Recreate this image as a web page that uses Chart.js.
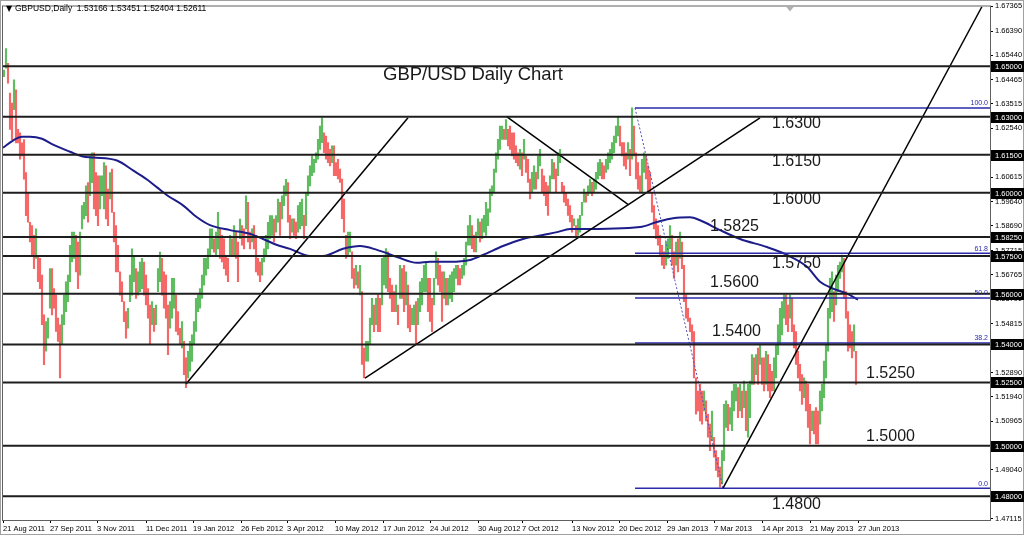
<!DOCTYPE html>
<html>
<head>
<meta charset="utf-8">
<script src="https://cdn.jsdelivr.net/npm/chart.js@4/dist/chart.umd.min.js"></script>
<style>
html, body { margin: 0; padding: 0; background: #fff; }
#wrap { width: 1024px; height: 535px; position: relative; }
</style>
</head>
<body>
<div id="wrap"><canvas id="chart"></canvas></div>
<script>
// daily bars [low, high], one bar per trading day, 21 Aug 2011 -> early Jul 2013
var barRanges = [
  [1.6459,1.6485],[1.6492,1.6570],[1.6433,1.6511],[1.6250,1.6394],[1.6210,1.6354],[1.6328,1.6446],[1.6197,1.6407],[1.6197,1.6250],[1.6132,1.6237],[1.6145,1.6197],
  [1.6053,1.6210],[1.5909,1.6079],[1.5883,1.6001],[1.5805,1.5883],[1.5752,1.5870],[1.5700,1.5831],[1.5740,1.5857],[1.5648,1.5752],[1.5621,1.5740],[1.5478,1.5674],
  [1.5320,1.5517],[1.5373,1.5490],[1.5425,1.5504],[1.5543,1.5700],[1.5517,1.5700],[1.5543,1.5621],[1.5452,1.5595],[1.5412,1.5504],[1.5268,1.5478],[1.5399,1.5517],
  [1.5478,1.5595],[1.5530,1.5648],[1.5569,1.5674],[1.5648,1.5792],[1.5726,1.5844],[1.5740,1.5844],[1.5687,1.5831],[1.5621,1.5805],[1.5674,1.5844],[1.5857,1.5949],
  [1.5896,1.5962],[1.5909,1.6027],[1.5883,1.6040],[1.5988,1.6145],[1.6040,1.6158],[1.5936,1.6158],[1.5909,1.6079],[1.5870,1.6067],[1.5936,1.6067],[1.5988,1.6067],
  [1.5936,1.6119],[1.5896,1.6106],[1.5870,1.6014],[1.5975,1.6079],[1.5922,1.6093],[1.5805,1.5922],[1.5687,1.5870],[1.5687,1.5792],[1.5595,1.5687],[1.5569,1.5648],
  [1.5490,1.5569],[1.5425,1.5530],[1.5464,1.5543],[1.5569,1.5674],[1.5595,1.5778],[1.5648,1.5752],[1.5582,1.5700],[1.5595,1.5687],[1.5609,1.5726],[1.5621,1.5740],
  [1.5595,1.5726],[1.5556,1.5674],[1.5504,1.5621],[1.5399,1.5556],[1.5478,1.5569],[1.5452,1.5543],[1.5478,1.5556],[1.5609,1.5700],[1.5648,1.5765],[1.5595,1.5740],
  [1.5543,1.5687],[1.5504,1.5674],[1.5360,1.5556],[1.5464,1.5569],[1.5504,1.5661],[1.5543,1.5661],[1.5452,1.5595],[1.5438,1.5530],[1.5399,1.5464],[1.5386,1.5490],
  [1.5281,1.5412],[1.5229,1.5347],[1.5268,1.5373],[1.5294,1.5412],[1.5333,1.5438],[1.5399,1.5490],[1.5452,1.5582],[1.5530,1.5595],[1.5543,1.5621],[1.5582,1.5674],
  [1.5634,1.5740],[1.5674,1.5740],[1.5700,1.5778],[1.5752,1.5857],[1.5778,1.5857],[1.5765,1.5818],[1.5752,1.5844],[1.5778,1.5922],[1.5740,1.5857],[1.5726,1.5831],
  [1.5700,1.5818],[1.5674,1.5752],[1.5648,1.5740],[1.5752,1.5831],[1.5752,1.5818],[1.5752,1.5870],[1.5740,1.5844],[1.5648,1.5805],[1.5818,1.5896],[1.5792,1.5870],
  [1.5778,1.5857],[1.5857,1.5988],[1.5805,1.5962],[1.5778,1.5844],[1.5805,1.5857],[1.5778,1.5870],[1.5687,1.5831],[1.5674,1.5740],[1.5648,1.5726],[1.5674,1.5740],
  [1.5726,1.5778],[1.5752,1.5831],[1.5778,1.5883],[1.5818,1.5909],[1.5831,1.5909],[1.5805,1.5896],[1.5844,1.5909],[1.5883,1.5975],[1.5831,1.5962],[1.5896,1.5988],
  [1.5949,1.6027],[1.5988,1.6053],[1.5883,1.6040],
  [1.5818,1.5910],[1.5844,1.5897],[1.5831,1.5897],[1.5818,1.5884],[1.5844,1.5949],[1.5857,1.5962],[1.5870,1.5975],[1.5818,1.5910],[1.5870,1.6001],[1.5988,1.6067],
  [1.6027,1.6106],[1.6067,1.6145],[1.6080,1.6132],[1.6119,1.6158],[1.6132,1.6211],[1.6171,1.6263],[1.6198,1.6296],[1.6158,1.6237],[1.6132,1.6224],[1.6119,1.6198],
  [1.6106,1.6171],[1.6119,1.6185],[1.6067,1.6185],[1.6067,1.6119],[1.6054,1.6132],[1.6041,1.6093],[1.5897,1.6054],[1.5844,1.5975],[1.5740,1.5831],[1.5753,1.5844],
  [1.5766,1.5844],[1.5661,1.5766],[1.5622,1.5700],[1.5635,1.5713],[1.5622,1.5687],[1.5596,1.5713],[1.5321,1.5609],[1.5268,1.5386],[1.5334,1.5412],[1.5334,1.5412],
  [1.5399,1.5504],[1.5478,1.5582],[1.5451,1.5556],[1.5478,1.5582],[1.5451,1.5596],[1.5451,1.5582],[1.5556,1.5740],[1.5635,1.5753],[1.5622,1.5779],[1.5609,1.5766],
  [1.5582,1.5661],[1.5530,1.5635],[1.5530,1.5609],[1.5530,1.5635],[1.5478,1.5556],[1.5582,1.5713],[1.5582,1.5700],[1.5530,1.5713],[1.5556,1.5687],[1.5465,1.5635],
  [1.5451,1.5556],[1.5478,1.5543],[1.5478,1.5556],[1.5399,1.5569],[1.5478,1.5582],[1.5530,1.5648],[1.5556,1.5661],[1.5609,1.5713],[1.5609,1.5726],[1.5530,1.5661],
  [1.5491,1.5661],[1.5451,1.5582],[1.5556,1.5661],[1.5661,1.5766],[1.5635,1.5740],[1.5609,1.5713],[1.5491,1.5687],[1.5582,1.5687],[1.5556,1.5661],[1.5556,1.5661],
  [1.5582,1.5674],[1.5569,1.5687],[1.5609,1.5700],[1.5661,1.5713],[1.5635,1.5713],[1.5635,1.5700],[1.5661,1.5713],[1.5674,1.5740],[1.5713,1.5805],[1.5792,1.5870],
  [1.5792,1.5910],[1.5779,1.5870],[1.5766,1.5831],[1.5766,1.5844],[1.5831,1.5897],[1.5805,1.5884],[1.5818,1.5897],[1.5844,1.5910],[1.5831,1.5962],[1.5870,1.5936],
  [1.5923,1.6014],[1.5988,1.6027],[1.6001,1.6093],[1.6080,1.6158],[1.6132,1.6211],[1.6171,1.6263],[1.6211,1.6263],[1.6211,1.6250],[1.6211,1.6289],[1.6185,1.6250],
  [1.6171,1.6263],[1.6145,1.6237],[1.6132,1.6237],[1.6119,1.6185],[1.6106,1.6158],[1.6093,1.6171],[1.6067,1.6158],[1.6132,1.6211],[1.6080,1.6145],[1.6041,1.6132],
  [1.5975,1.6054],[1.6001,1.6080],[1.6014,1.6106],[1.6014,1.6080],[1.6054,1.6145],[1.6106,1.6171],[1.6001,1.6093],[1.5988,1.6067],[1.5949,1.6041],[1.5910,1.6027],
  [1.6001,1.6067],[1.6054,1.6132],[1.6054,1.6119],[1.6001,1.6093],[1.6067,1.6158],[1.6119,1.6171],[1.6001,1.6041],[1.5962,1.6027],[1.5949,1.6001],[1.5910,1.5975],
  [1.5884,1.5949],[1.5844,1.5910],[1.5870,1.5897],[1.5825,1.5870],[1.5831,1.5897],
  [1.5844,1.5910],[1.5910,1.5962],[1.5962,1.6014],[1.5962,1.6001],[1.5988,1.6027],[1.6001,1.6054],[1.5988,1.6041],[1.6001,1.6054],[1.6014,1.6080],[1.6054,1.6119],
  [1.6067,1.6132],[1.6054,1.6119],[1.6054,1.6106],[1.6080,1.6132],[1.6093,1.6158],[1.6119,1.6171],[1.6132,1.6198],[1.6158,1.6224],[1.6198,1.6263],[1.6224,1.6302],
  [1.6185,1.6263],[1.6145,1.6198],[1.6106,1.6198],[1.6093,1.6158],[1.6132,1.6198],[1.6067,1.6171],[1.6132,1.6335],[1.6145,1.6263],[1.6054,1.6158],[1.6014,1.6119],
  [1.6001,1.6067],[1.6001,1.6132],[1.6080,1.6158],[1.6054,1.6145],[1.6001,1.6106],[1.6001,1.6080],[1.5923,1.6001],[1.5857,1.5949],[1.5818,1.5897],[1.5792,1.5870],
  [1.5753,1.5831],[1.5713,1.5792],[1.5700,1.5766],[1.5713,1.5805],[1.5740,1.5818],[1.5779,1.5870],[1.5713,1.5831],[1.5661,1.5766],[1.5713,1.5805],[1.5687,1.5818],
  [1.5740,1.5844],[1.5700,1.5805],[1.5569,1.5713],[1.5504,1.5596],[1.5491,1.5543],[1.5451,1.5504],[1.5412,1.5478],[1.5268,1.5451],[1.5124,1.5268],[1.5137,1.5216],
  [1.5098,1.5242],[1.5085,1.5216],[1.5137,1.5216],[1.5098,1.5177],[1.5033,1.5124],[1.4980,1.5085],[1.5020,1.5137],[1.4954,1.5033],[1.4902,1.4980],[1.4876,1.4954],
  [1.4836,1.4915],[1.4849,1.4980],[1.4941,1.5163],[1.5072,1.5177],[1.5059,1.5163],[1.5085,1.5150],[1.5059,1.5216],[1.5137,1.5242],[1.5177,1.5242],[1.5111,1.5229],
  [1.5137,1.5242],[1.5111,1.5216],[1.5150,1.5255],[1.5059,1.5216],[1.5033,1.5242],[1.5111,1.5255],[1.5242,1.5360],[1.5242,1.5347],[1.5281,1.5360],[1.5242,1.5386],
  [1.5321,1.5399],[1.5242,1.5347],[1.5216,1.5347],[1.5242,1.5373],[1.5216,1.5360],[1.5190,1.5321],[1.5216,1.5294],[1.5216,1.5347],[1.5268,1.5399],[1.5360,1.5478],
  [1.5399,1.5543],[1.5438,1.5569],[1.5504,1.5596],[1.5478,1.5596],[1.5451,1.5556],[1.5504,1.5596],[1.5451,1.5582],[1.5386,1.5478],[1.5321,1.5451],[1.5268,1.5373],
  [1.5216,1.5321],[1.5163,1.5281],[1.5190,1.5268],[1.5137,1.5255],[1.5072,1.5242],[1.5007,1.5163],[1.5059,1.5137],[1.5046,1.5137],[1.5007,1.5150],[1.5007,1.5137],
  [1.5085,1.5216],[1.5137,1.5242],[1.5190,1.5334],[1.5268,1.5399],[1.5373,1.5543],[1.5504,1.5661],[1.5530,1.5687],[1.5491,1.5609],[1.5556,1.5674],[1.5609,1.5713],
  [1.5661,1.5726],[1.5687,1.5753],[1.5582,1.5740],[1.5504,1.5609],[1.5373,1.5530],[1.5386,1.5478],[1.5347,1.5451],[1.5373,1.5478],[1.5242,1.5373]
];

// moving average, [bar index, price]
var maPoints = [
  [-0.5,1.6178],[4.5,1.6206],[9,1.6221],[13,1.6221],[19,1.6213],[24.5,1.6190],[33,1.6162],[39.5,1.6143],[44.5,1.6139],
  [56.5,1.6127],[64.5,1.6088],[71.5,1.6052],[76.5,1.6021],[81.5,1.5990],[89.5,1.5950],[96.5,1.5903],[103,1.5872],
  [113,1.5852],[123,1.5837],[129.5,1.5817],[136.5,1.5793],[143,1.5778],[153,1.5750],[159.5,1.5750],[169.5,1.5778],
  [178,1.5789],[186.5,1.5774],[196.5,1.5746],[206.5,1.5723],[213,1.5727],[223,1.5727],[233,1.5734],[239.5,1.5754],
  [249.5,1.5789],[259.5,1.5817],[269.5,1.5833],[276.5,1.5844],[283,1.5856],[288,1.5856],[318,1.5864],[326.5,1.5884],
  [334.5,1.5899],[343,1.5903],[348,1.5891],[358,1.5852],[368,1.5817],[381.5,1.5785],[391.5,1.5754],[401.5,1.5707],
  [408,1.5648],[414.5,1.5621],[421.5,1.5601],[427,1.5577]
];

// horizontal support / resistance levels
var levels = [1.6500, 1.6300, 1.6150, 1.6000, 1.5825, 1.5750, 1.5600, 1.5400, 1.5250, 1.5000, 1.4800];

// trend lines, each [[index, price], [index, price]]
var trendLines = [
  [[91, 1.5244], [202, 1.6296]],
  [[180.5, 1.5267], [378, 1.6296]],
  [[251.5, 1.6300], [312, 1.5954]],
  [[359.5, 1.4832], [489, 1.6736]]
];

// fibonacci retracement of the Jan-Mar 2013 drop
var fibNames = ['100.0', '61.8', '50.0', '38.2', '0.0'];
var fibPrices = [1.6335, 1.5761, 1.5584, 1.5406, 1.4832];
var fibSwing = [[315.5, 1.6335], [359.5, 1.4832]];

var dateTicks = [-0.5, 23, 46.5, 71, 94.5, 118.5, 141.5, 165.5, 189.5, 213, 237, 259, 284, 307.5, 331.5, 355, 379, 403, 427];
var dateLabels = ['21 Aug 2011', '27 Sep 2011', '3 Nov 2011', '11 Dec 2011', '19 Jan 2012', '26 Feb 2012', '3 Apr 2012',
  '10 May 2012', '17 Jun 2012', '24 Jul 2012', '30 Aug 2012', '7 Oct 2012', '13 Nov 2012', '20 Dec 2012',
  '29 Jan 2013', '7 Mar 2013', '14 Apr 2013', '21 May 2013', '27 Jun 2013'];

var priceTicks = [1.67365, 1.66390, 1.65440, 1.64465, 1.63515, 1.62540, 1.61590, 1.60615, 1.59640, 1.58690, 1.57715,
  1.56765, 1.55790, 1.54815, 1.53865, 1.52890, 1.51940, 1.50965, 1.50015, 1.49040, 1.48065, 1.47115];

var noteTexts = ['1.6300', '1.6150', '1.6000', '1.5825', '1.5750', '1.5600', '1.5400', '1.5250', '1.5000', '1.4800'];
var notePos = [[772, 124], [772, 162], [772, 200], [710, 227], [772, 264], [710, 283], [712, 332], [866, 374], [866, 437], [772, 505]];

var GREEN = 'rgb(96,188,96)';
var RED = 'rgb(246,104,104)';

var barColors = barRanges.map(function(r, i) {
  if (i == 0) return GREEN;
  var prev = barRanges[i - 1];
  return (r[0] + r[1]) >= (prev[0] + prev[1]) ? GREEN : RED;
});

function seg(a, b, color, width, dash) {
  return {
    type: 'line',
    data: [{x: a[0], y: a[1]}, {x: b[0], y: b[1]}],
    borderColor: color,
    borderWidth: width,
    borderDash: dash || [],
    pointRadius: 0,
    fill: false,
    order: 1
  };
}

var datasets = [{
  type: 'bar',
  data: barRanges.map(function(r, i) { return {x: i, y: r}; }),
  backgroundColor: barColors,
  barThickness: 1.5,
  grouped: false,
  order: 10
}, {
  type: 'line',
  data: maPoints.map(function(p) { return {x: p[0], y: p[1]}; }),
  borderColor: '#1c1c8a',
  borderWidth: 2,
  pointRadius: 0,
  fill: false,
  cubicInterpolationMode: 'monotone',
  order: 3
}];

levels.forEach(function(v) { datasets.push(seg([-0.5, v], [493, v], '#1e1e1e', 2)); });
trendLines.forEach(function(t) { datasets.push(seg(t[0], t[1], '#000', 1.5)); });
fibPrices.forEach(function(v) { datasets.push(seg([fibSwing[0][0], v], [493, v], '#2a2aaa', 1.5)); });
datasets.push(seg(fibSwing[0], fibSwing[1], '#5050c0', 1, [2, 2]));

var overlay = {
  id: 'overlay',
  beforeDraw: function(chart) {
    var ctx = chart.ctx;
    ctx.save();
    ctx.fillStyle = '#fff';
    ctx.fillRect(0, 0, chart.width, chart.height);
    ctx.restore();
  },
  afterDraw: function(chart) {
    var ctx = chart.ctx, a = chart.chartArea, ys = chart.scales.y;
    ctx.save();
    // chart frame
    ctx.strokeStyle = '#606060';
    ctx.lineWidth = 1;
    ctx.strokeRect(a.left - 0.5, a.top - 0.5, a.right - a.left + 1, a.bottom - a.top + 1);
    ctx.strokeStyle = '#a0a0a0';
    ctx.strokeRect(0.5, 0.5, chart.width - 1, chart.height - 1);

    // level boxes on the price axis
    ctx.font = '7.5px "Liberation Sans"';
    ctx.textBaseline = 'middle';
    ctx.textAlign = 'left';
    levels.forEach(function(v) {
      var y = Math.round(ys.getPixelForValue(v));
      ctx.fillStyle = '#000';
      ctx.fillRect(a.right + 1, y - 5, 33, 11);
      ctx.fillStyle = '#fff';
      ctx.fillText(v.toFixed(5), a.right + 5, y + 0.5);
    });

    // fib level names
    ctx.font = '7px "Liberation Sans"';
    ctx.fillStyle = '#2a2aaa';
    ctx.textAlign = 'right';
    ctx.textBaseline = 'bottom';
    fibPrices.forEach(function(v, i) {
      ctx.fillText(fibNames[i], a.right - 2, ys.getPixelForValue(v) - 1);
    });

    // level notes
    ctx.font = '16px "Liberation Sans"';
    ctx.fillStyle = '#1a1a1a';
    ctx.textAlign = 'left';
    ctx.textBaseline = 'middle';
    noteTexts.forEach(function(t, i) { ctx.fillText(t, notePos[i][0], notePos[i][1]); });

    // title
    ctx.font = '18.5px "Liberation Sans"';
    ctx.textAlign = 'center';
    ctx.fillText('GBP/USD Daily Chart', 473, 75);

    // header
    ctx.font = '8px "DejaVu Sans"';
    ctx.textAlign = 'left';
    ctx.fillStyle = '#000';
    ctx.fillText('\u25BC', 6, 9);
    ctx.font = '8.5px "Liberation Sans"';
    ctx.fillText('GBPUSD,Daily  1.53166 1.53451 1.52404 1.52611', 15, 9);

    // chart shift marker
    ctx.fillStyle = '#b0b0b0';
    ctx.beginPath();
    ctx.moveTo(786, a.top);
    ctx.lineTo(794, a.top);
    ctx.lineTo(790, a.top + 5);
    ctx.closePath();
    ctx.fill();
    ctx.restore();
  }
};

new Chart(document.getElementById('chart'), {
  type: 'bar',
  data: { datasets: datasets },
  plugins: [overlay],
  options: {
    responsive: true,
    maintainAspectRatio: false,
    animation: false,
    events: [],
    layout: { padding: { left: 3, top: 3, right: 0, bottom: 0 } },
    plugins: { legend: { display: false }, tooltip: { enabled: false } },
    scales: {
      x: {
        type: 'linear',
        min: -0.5,
        max: 493,
        offset: false,
        afterBuildTicks: function(scale) {
          scale.ticks = dateTicks.map(function(v) { return {value: v}; });
        },
        afterFit: function(scale) { scale.height = 15; },
        ticks: {
          autoSkip: false,
          maxRotation: 0,
          align: 'start',
          padding: 1,
          color: '#000',
          font: { family: 'Liberation Sans', size: 7.5 },
          callback: function(v, i) { return dateLabels[i]; }
        },
        grid: { drawOnChartArea: false, tickLength: 3, color: '#000', offset: false },
        border: { color: '#000' }
      },
      y: {
        type: 'linear',
        position: 'right',
        min: 1.4706,
        max: 1.6736,
        afterBuildTicks: function(scale) {
          scale.ticks = priceTicks.map(function(v) { return {value: v}; });
        },
        afterFit: function(scale) { scale.width = 34; },
        ticks: {
          autoSkip: false,
          padding: 2,
          color: '#000',
          font: { family: 'Liberation Sans', size: 7.5 },
          callback: function(v) { return v.toFixed(5); }
        },
        grid: { drawOnChartArea: false, tickLength: 3, color: '#000' },
        border: { color: '#000' }
      }
    }
  }
});
</script>
</body>
</html>
